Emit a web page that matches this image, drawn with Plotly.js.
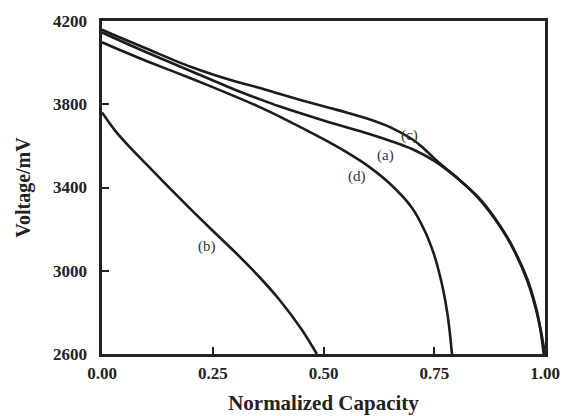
<!DOCTYPE html>
<html>
<head>
<meta charset="utf-8">
<script src="https://cdn.plot.ly/plotly-3.0.1.min.js"></script>
<style>html,body{margin:0;padding:0;background:#fff;}#chart{width:566px;height:416px;}</style>
</head>
<body>
<div id="chart"></div>
<script>
// Discharge curves: normalized capacity vs voltage (mV)
const capA = [0, 0.05, 0.1, 0.2, 0.3, 0.35, 0.4, 0.5, 0.6, 0.65, 0.7, 0.75, 0.8, 0.85, 0.9, 0.93, 0.96, 0.98, 0.99, 0.997];
const voltA = [4145, 4097, 4050, 3960, 3870, 3829, 3790, 3722, 3660, 3625, 3585, 3528, 3448, 3348, 3208, 3098, 2952, 2812, 2712, 2600];

const capB = [0, 0.03, 0.06, 0.1, 0.15, 0.2, 0.25, 0.3, 0.35, 0.4, 0.45, 0.485];
const voltB = [3760, 3672, 3600, 3512, 3403, 3296, 3192, 3090, 2982, 2862, 2720, 2600];

const capC = [0, 0.05, 0.1, 0.2, 0.3, 0.35, 0.4, 0.5, 0.55, 0.6, 0.65, 0.7, 0.72, 0.75, 0.78, 0.8, 0.85, 0.9, 0.93, 0.96, 0.98, 0.99, 1.0];
const voltC = [4158, 4112, 4068, 3980, 3910, 3882, 3850, 3790, 3762, 3730, 3690, 3632, 3600, 3540, 3485, 3450, 3352, 3212, 3102, 2960, 2820, 2720, 2600];

const capD = [0, 0.05, 0.1, 0.2, 0.3, 0.35, 0.4, 0.5, 0.55, 0.6, 0.65, 0.7, 0.73, 0.75, 0.76, 0.77, 0.78, 0.785, 0.79];
const voltD = [4098, 4052, 4008, 3925, 3838, 3792, 3742, 3632, 3572, 3504, 3418, 3302, 3185, 3075, 3000, 2910, 2790, 2705, 2600];

const labelText = ['(a)', '(b)', '(c)', '(d)'];
const labelX = [0.641, 0.236, 0.695, 0.575];
const labelY = [3556, 3116, 3652, 3455];

const xTicks = [0, 0.25, 0.5, 0.75, 1.0];
const xTickText = ['0.00', '0.25', '0.50', '0.75', '1.00'];
const yTicks = [2600, 3000, 3400, 3800, 4200];
const yTickText = ['2600', '3000', '3400', '3800', '4200'];

const lineStyle = {color: '#1c1c1c', width: 2.6, shape: 'spline', smoothing: 0.9};
const series = [[capA, voltA], [capB, voltB], [capC, voltC], [capD, voltD]];
const traces = series.map(s => ({x: s[0], y: s[1], mode: 'lines', type: 'scatter', line: lineStyle, hoverinfo: 'skip'}));

const serif = 'Liberation Serif, Times New Roman, serif';
const annotations = labelText.map((t, i) => ({
  x: labelX[i], y: labelY[i], xref: 'x', yref: 'y', text: t, showarrow: false,
  font: {family: serif, size: 15, color: '#333'}
}));

const axisFont = {family: serif, size: 17, color: '#222', weight: 'bold'};
const layout = {
  width: 566, height: 416,
  margin: {l: 102, r: 21, t: 21, b: 62},
  paper_bgcolor: '#fff', plot_bgcolor: '#fff',
  showlegend: false,
  xaxis: {
    range: [0, 1.0], tickvals: xTicks, ticktext: xTickText,
    ticks: 'inside', ticklen: 7, tickwidth: 2, tickcolor: '#222',
    showline: true, linewidth: 2.6, linecolor: '#222', mirror: true,
    showgrid: false, zeroline: false,
    tickfont: axisFont, ticklabelstandoff: 2,
    title: {text: 'Normalized Capacity', font: {family: serif, size: 21, color: '#222', weight: 'bold'}, standoff: 14}
  },
  yaxis: {
    range: [2600, 4200], tickvals: yTicks, ticktext: yTickText,
    ticks: 'inside', ticklen: 7, tickwidth: 2, tickcolor: '#222',
    showline: true, linewidth: 2.6, linecolor: '#222', mirror: true,
    showgrid: false, zeroline: false,
    tickfont: axisFont, ticklabelstandoff: 9,
    title: {text: 'Voltage/mV', font: {family: serif, size: 20, color: '#222', weight: 'bold'}, standoff: 17}
  },
  annotations: annotations
};
Plotly.newPlot('chart', traces, layout, {displayModeBar: false, staticPlot: true});
</script>
</body>
</html>
